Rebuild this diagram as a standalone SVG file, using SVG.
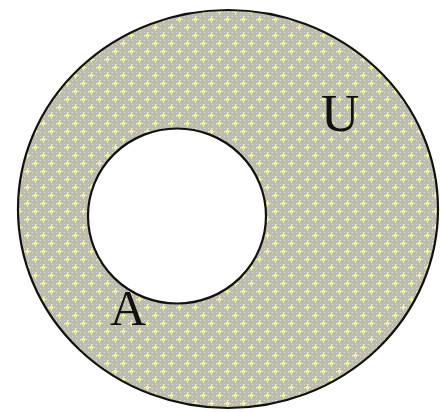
<svg xmlns="http://www.w3.org/2000/svg" width="440" height="412" viewBox="0 0 440 412">
<style>
.outline{stroke:#111;stroke-width:2.2}
.lbl{font-family:"Liberation Serif","DejaVu Serif",serif;fill:#111}
</style>
<defs>
<pattern id="dots" width="16" height="16" patternUnits="userSpaceOnUse">
<rect width="16" height="16" fill="#bdbdae"/>
<g fill="#dcdcd4">
<rect x="0" y="0" width="1" height="1"/><rect x="4" y="0" width="1" height="1"/><rect x="8" y="0" width="1" height="1"/><rect x="12" y="0" width="1" height="1"/>
<rect x="0" y="4" width="1" height="1"/><rect x="4" y="4" width="1" height="1"/><rect x="8" y="4" width="1" height="1"/><rect x="12" y="4" width="1" height="1"/>
<rect x="0" y="8" width="1" height="1"/><rect x="4" y="8" width="1" height="1"/><rect x="8" y="8" width="1" height="1"/><rect x="12" y="8" width="1" height="1"/>
<rect x="0" y="12" width="1" height="1"/><rect x="4" y="12" width="1" height="1"/><rect x="8" y="12" width="1" height="1"/><rect x="12" y="12" width="1" height="1"/>
</g>
<g fill="#f0f0a4">
<rect x="3" y="0" width="1" height="7"/><rect x="0" y="3" width="7" height="1"/><rect x="2" y="2" width="3" height="3"/>
<rect x="11" y="8" width="1" height="7"/><rect x="8" y="11" width="7" height="1"/><rect x="10" y="10" width="3" height="3"/>
</g>
</pattern>
</defs>
<g id="U">
<ellipse cx="228" cy="209" rx="210" ry="199" fill="url(#dots)" class="outline"/>
<text x="321" y="131" class="lbl" font-size="53">U</text>
</g>
<g id="A">
<ellipse cx="177" cy="216" rx="89" ry="87.5" fill="#ffffff" class="outline"/>
<text x="110" y="325" class="lbl" font-size="50">A</text>
</g>
</svg>
